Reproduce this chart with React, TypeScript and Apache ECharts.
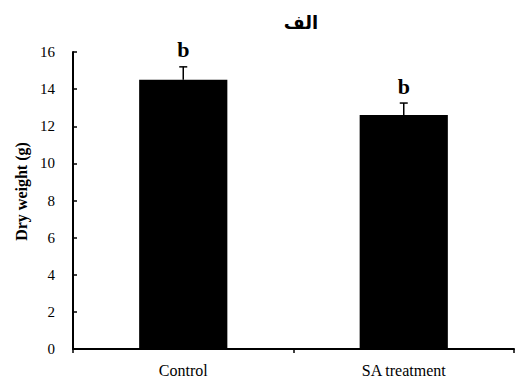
import React, { useEffect, useRef } from "react";
import * as echarts from "echarts";

const categories = ["Control", "SA treatment"];
const values = [14.5, 12.6];
const errors = [0.7, 0.65];
const letters = ["b", "b"];
const yTicks = { min: 0, max: 16, interval: 2 };
const title = "الف";
const yName = "Dry weight (g)";

export default function App() {
  const ref = useRef<HTMLDivElement>(null);
  useEffect(() => {
    const chart = echarts.init(ref.current!, null, { renderer: "svg" });
    const serif = "'Liberation Serif', 'Times New Roman', serif";
    chart.setOption({
      animation: false,
      backgroundColor: "#fff",
      title: {
        text: title,
        left: 296,
        top: 8,
        textAlign: "center",
        textStyle: { fontFamily: "'DejaVu Sans', 'Noto Sans', sans-serif", fontSize: 18, fontWeight: "bold", color: "#000" },
      },
      grid: { left: 73, right: 2, top: 52, bottom: 34 },
      xAxis: {
        type: "category",
        data: categories,
        axisLine: { lineStyle: { color: "#000", width: 2 } },
        axisTick: { show: true, inside: false, length: 4, alignWithLabel: false, lineStyle: { color: "#000", width: 1.5 } },
        axisLabel: { color: "#000", fontFamily: serif, fontSize: 16, margin: 13 },
      },
      yAxis: {
        type: "value",
        min: yTicks.min,
        max: yTicks.max,
        interval: yTicks.interval,
        name: yName,
        nameLocation: "middle",
        nameGap: 41,
        nameTextStyle: { color: "#000", fontFamily: serif, fontSize: 16, fontWeight: "bold", padding: [0, 0, 0, 18] },
        axisLine: { show: true, lineStyle: { color: "#000", width: 2 } },
        axisTick: { show: true, inside: true, length: 4, lineStyle: { color: "#000", width: 1.5 } },
        axisLabel: { color: "#000", fontFamily: serif, fontSize: 15, margin: 18 },
        splitLine: { show: false },
      },
      series: [
        {
          type: "bar",
          data: values,
          barWidth: "40%",
          itemStyle: { color: "#000" },
        },
        {
          type: "custom",
          data: values.map((v, i) => [i, v, errors[i], letters[i]]),
          z: 5,
          renderItem: (params: any, api: any) => {
            const x = api.value(0);
            const v = api.value(1);
            const e = api.value(2);
            const base = api.coord([x, v]);
            const top = api.coord([x, v + e]);
            const cap = 4;
            return {
              type: "group",
              children: [
                { type: "line", shape: { x1: base[0], y1: base[1], x2: top[0], y2: top[1] }, style: { stroke: "#000", lineWidth: 1.5 } },
                { type: "line", shape: { x1: top[0] - cap, y1: top[1], x2: top[0] + cap, y2: top[1] }, style: { stroke: "#000", lineWidth: 1.5 } },
                {
                  type: "text",
                  x: top[0],
                  y: top[1] - 6,
                  style: {
                    text: letters[params.dataIndex],
                    fill: "#000",
                    font: "bold 22px " + serif,
                    textAlign: "center",
                    textVerticalAlign: "bottom",
                  },
                },
              ],
            };
          },
        },
      ],
    });
    return () => chart.dispose();
  }, []);
  return <div ref={ref} style={{ width: 516, height: 383, position: "absolute", left: 0, top: 0 }} />;
}
